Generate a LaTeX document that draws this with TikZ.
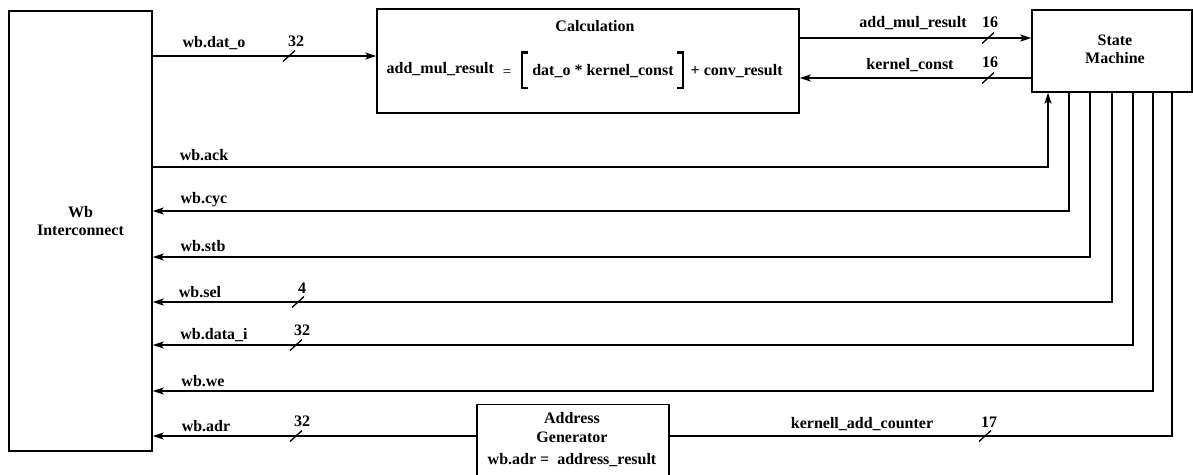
\documentclass[tikz,border=0pt]{standalone}
\usepackage{fontspec}
\setmainfont{Liberation Serif}
\usetikzlibrary{arrows.meta}
\begin{document}
\begin{tikzpicture}[x=1pt,y=-1pt, line width=1.3pt,
  blk/.style={draw, line width=1.4pt, inner sep=0pt, fill=white},
  lbl/.style={font=\fontsize{16}{18}\selectfont\bfseries, inner sep=0pt, align=center},
  arr/.style={-{Stealth[length=11pt,width=7pt,inset=2.5pt]}},
  busmark/.pic={\draw[line width=1.3pt] (-6,5.5) -- (6,-5.5);},
  brk/.style={line width=2.8pt, miter limit=10}
]
\useasboundingbox (0,0) rectangle (1193,474);
\clip (0,0) rectangle (1193,474);

% blocks
\node[blk, minimum width=143pt, minimum height=440pt] (wb) at (80.5,231) {};
\node[lbl] (wbtxt) at (80.5,221) {Wb\\Interconnect};

\node[blk, minimum width=422pt, minimum height=104pt] (calc) at (588,61) {};
\node[lbl] (calctitle) at (595,26) {Calculation};
\node[lbl, anchor=west] (lhs) at (386,69) {add\_mul\_result};
\node[lbl, font=\fontsize{15}{17}\selectfont] (eq) at (507,73) {=};
\node[lbl] (prod) at (603,71) {dat\_o * kernel\_const};
\node[lbl, anchor=west] (rhs) at (690,71) {+ conv\_result};
\draw[brk] (528,52.5) -- (522,52.5) -- (522,88) -- (528,88);
\draw[brk] (677,52.5) -- (683,52.5) -- (683,88) -- (677,88);

\node[blk, minimum width=160pt, minimum height=82pt] (sm) at (1112,51) {};
\node[lbl] (smtxt) at (1115,49) {State\\Machine};

\node[blk, minimum width=192pt, minimum height=80pt, anchor=north] (ag) at (573,404) {};
\node[lbl] (agt1) at (572,418) {Address};
\node[lbl] (agt2) at (572,437) {Generator};
\node[lbl] (agt3) at (572,460) {wb.adr = \ address\_result};

% connectors
\draw[arr] (wb.east |- 0,56) -- (calc.west |- 0,56);
\draw[arr] (calc.east |- 0,38) -- (sm.west |- 0,38);
\draw[arr] (sm.west |- 0,78) -- (calc.east |- 0,78);
\draw[arr] (wb.east |- 0,167) -| (sm.south -| 1048,0);
\draw[arr] (sm.south -| 1069,0) |- (wb.east |- 0,211);
\draw[arr] (sm.south -| 1090,0) |- (wb.east |- 0,257);
\draw[arr] (sm.south -| 1112,0) |- (wb.east |- 0,302);
\draw[arr] (sm.south -| 1133,0) |- (wb.east |- 0,345);
\draw[arr] (sm.south -| 1153,0) |- (wb.east |- 0,391);
\draw (sm.south -| 1172,0) |- (ag.east |- 0,436);
\draw[arr] (ag.west |- 0,436) -- (wb.east |- 0,436);

% signal labels and bus widths
\node[lbl] (ldat) at (214,43) {wb.dat\_o};
\node[lbl] (ndat) at (296,41) {32};
\pic at (289,56) {busmark};

\node[lbl] (lamr) at (913,23) {add\_mul\_result};
\node[lbl] (namr) at (990,22) {16};
\pic at (988,38) {busmark};

\node[lbl] (lkc) at (910,65) {kernel\_const};
\node[lbl] (nkc) at (990,62) {16};
\pic at (988,78) {busmark};

\node[lbl] (lack) at (204,155) {wb.ack};
\node[lbl] (lcyc) at (204,200) {wb.cyc};
\node[lbl] (lstb) at (203,246) {wb.stb};

\node[lbl] (lsel) at (200,292) {wb.sel};
\node[lbl] (nsel) at (302,288) {4};
\pic at (298,302) {busmark};

\node[lbl] (ldi) at (214,335) {wb.data\_i};
\node[lbl] (ndi) at (302,330) {32};
\pic at (296,345) {busmark};

\node[lbl] (lwe) at (203,381) {wb.we};

\node[lbl] (ladr) at (206,426) {wb.adr};
\node[lbl] (nadr) at (302,421) {32};
\pic at (296,436) {busmark};

\node[lbl] (lkac) at (862,424) {kernell\_add\_counter};
\node[lbl] (nkac) at (989,422) {17};
\pic at (985,436) {busmark};
\end{tikzpicture}
\end{document}
